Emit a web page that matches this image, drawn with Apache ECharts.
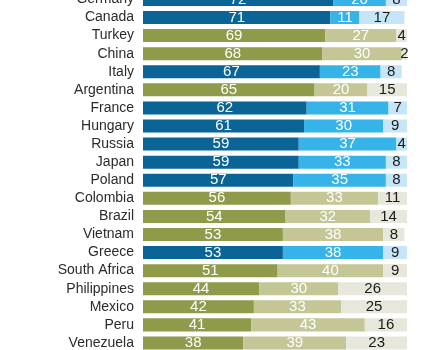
<!DOCTYPE html>
<html>
<head>
<meta charset="utf-8">
<script src="https://cdn.jsdelivr.net/npm/echarts@6/dist/echarts.min.js"></script>
<style>
  html, body { margin: 0; padding: 0; background: #fff; overflow: hidden; }
  /* the reference is cropped: first and last rows run off the edges */
  #chart { width: 441px; height: 372px; margin-top: -10px; }
</style>
</head>
<body>
<div id="chart"></div>
<script>
const countries = ["Germany", "Canada", "Turkey", "China", "Italy", "Argentina", "France",
  "Hungary", "Russia", "Japan", "Poland", "Colombia", "Brazil", "Vietnam", "Greece",
  "South Africa", "Philippines", "Mexico", "Peru", "Venezuela"];
const first = [72, 71, 69, 68, 67, 65, 62, 61, 59, 59, 57, 56, 54, 53, 53, 51, 44, 42, 41, 38];
const second = [20, 11, 27, 30, 23, 20, 31, 30, 37, 33, 35, 33, 32, 38, 38, 40, 30, 33, 43, 39];
const third = [8, 17, 4, 2, 8, 15, 7, 9, 4, 8, 8, 11, 14, 8, 9, 9, 26, 25, 16, 23];
// "b" = blue group, "o" = olive group
const group = ["b", "b", "o", "o", "b", "o", "b", "b", "b", "b", "b", "o", "o", "o", "b",
  "o", "o", "o", "o", "o"];

const palette = {
  b: ["#0b6496", "#36b3e8", "#c6e5f6"],
  o: ["#8f9a4b", "#c5c696", "#e7e7db"],
};

const FONT = "Liberation Sans";

function items(vals, k) {
  return vals.map((v, i) => ({
    value: v,
    itemStyle: { color: palette[group[i]][k] },
  }));
}

const chart = echarts.init(document.getElementById("chart"));
const labelBase = {
  show: true,
  position: "inside",
  fontFamily: FONT,
  fontSize: 15,
};
chart.setOption({
  animation: false,
  grid: { left: 143, right: 34, top: 0.4, bottom: 10 },
  xAxis: {
    type: "value",
    min: 0,
    max: 100,
    show: false,
  },
  yAxis: {
    type: "category",
    data: countries,
    inverse: true,
    axisLine: { show: false },
    axisTick: { show: false },
    axisLabel: {
      interval: 0,
      margin: 9,
      color: "#2b2b2b",
      fontFamily: FONT,
      fontSize: 14,
    },
  },
  series: [
    {
      type: "bar",
      stack: "all",
      barCategoryGap: "28%",
      data: items(first, 0),
      label: Object.assign({ color: "#fff" }, labelBase),
    },
    {
      type: "bar",
      stack: "all",
      data: items(second, 1),
      label: Object.assign({ color: "#fff" }, labelBase),
    },
    {
      type: "bar",
      stack: "all",
      data: items(third, 2),
      label: Object.assign({ color: "#1a1a1a" }, labelBase),
    },
  ],
});
</script>
</body>
</html>
